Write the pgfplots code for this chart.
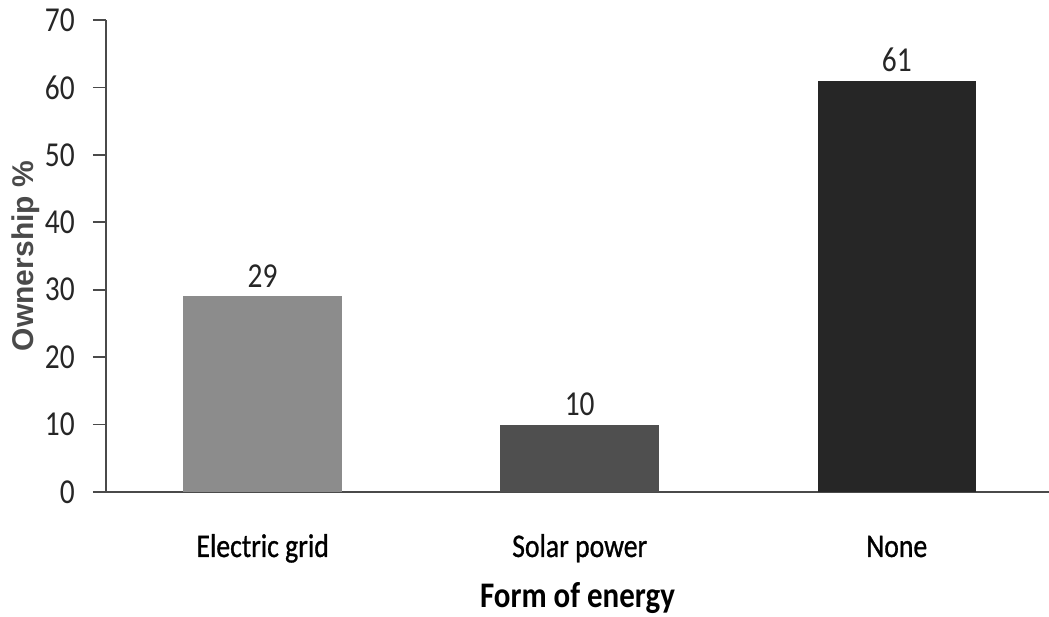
\documentclass[border=0pt]{standalone}
\usepackage{fontspec}
\usepackage{pgfplots}
\pgfplotsset{compat=1.18}
\newfontfamily\calfont{Carlito}[FakeStretch=0.84]
\newfontfamily\calmed{Carlito}[FakeStretch=0.84, FakeBold=0.9]
\newfontfamily\calbold{Carlito}[FakeStretch=0.86, BoldFont={* Bold}]
\newfontfamily\arialfont{Liberation Sans}
\definecolor{axisgray}{HTML}{4A4A4A}
\definecolor{txt}{HTML}{262626}
\definecolor{cA}{HTML}{8C8C8C}
\definecolor{cB}{HTML}{4F4F4F}
\definecolor{cC}{HTML}{262626}
\begin{document}
\begin{tikzpicture}
\begin{axis}[
  at={(0,0)}, anchor=south west,
  scale only axis, width=943pt, height=472pt,
  xmin=-0.494, xmax=2.48, ymin=0, ymax=70,
  axis x line*=bottom, axis y line*=left,
  axis line style={-, draw=axisgray, line width=1.8pt},
  xtick={0,1,2}, xticklabels={Electric grid,Solar power,None},
  major x tick style={draw=none},
  ytick={0,10,...,70},
  tick align=outside, major tick length=13pt,
  major y tick style={draw=axisgray, line width=1.8pt},
  /pgf/number format/assume math mode=true,
  yticklabel style={font=\calfont\fontsize{35}{40}\selectfont, text=txt, anchor=east, inner sep=0pt, xshift=-18pt},
  xticklabel style={font=\calmed\fontsize{33}{40}\selectfont, text=black, anchor=base, inner sep=0pt, yshift=-52pt},
  xlabel={Form of energy},
  xlabel style={font=\calbold\bfseries\fontsize{36}{40}\selectfont, text=black, at={(axis description cs:0.5,0)}, anchor=base, inner sep=0pt, yshift=-116pt},
  ylabel={Ownership \%},
  ylabel style={font=\arialfont\bfseries\fontsize{30}{36}\selectfont, text=axisgray, at={(axis description cs:-0.0848,0.5)}, anchor=center, rotate=0},
  nodes near coords,
  nodes near coords style={font=\calfont\fontsize{35}{40}\selectfont, text=txt, anchor=south, inner sep=0pt, yshift=8.5pt},
  clip=false,
]
\addplot[ybar, bar shift=0pt, bar width=0.5, fill=cA, draw=none] coordinates {(0,29)};
\addplot[ybar, bar shift=0pt, bar width=0.5, fill=cB, draw=none] coordinates {(1,10)};
\addplot[ybar, bar shift=0pt, bar width=0.5, fill=cC, draw=none] coordinates {(2,61)};
\end{axis}
\pgfresetboundingbox
\useasboundingbox (-106pt,-125pt) rectangle (943pt,492pt);
\end{tikzpicture}
\end{document}
